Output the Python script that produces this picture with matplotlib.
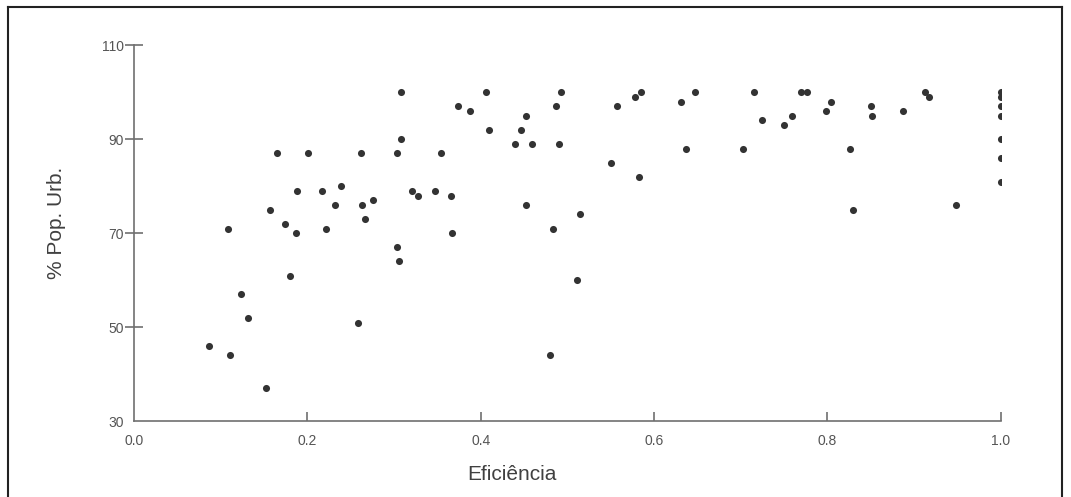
import matplotlib
matplotlib.use("Agg")
import matplotlib.pyplot as plt
from matplotlib.lines import Line2D

plt.rcParams['font.family'] = ['Liberation Sans', 'DejaVu Sans']

eficiencia = [0.087, 0.108, 0.111, 0.124, 0.131, 0.152, 0.157, 0.165, 0.174, 0.180,
              0.187, 0.188, 0.201, 0.217, 0.222, 0.232, 0.239, 0.258, 0.262, 0.263,
              0.267, 0.276, 0.304, 0.303, 0.306, 0.308, 0.308, 0.321, 0.328, 0.347,
              0.354, 0.366, 0.367, 0.374, 0.388, 0.406, 0.410, 0.440, 0.446, 0.452,
              0.452, 0.459, 0.480, 0.483, 0.487, 0.490, 0.493, 0.511, 0.515, 0.550,
              0.557, 0.578, 0.583, 0.585, 0.631, 0.637, 0.647, 0.703, 0.715, 0.725,
              0.750, 0.759, 0.770, 0.777, 0.798, 0.804, 0.826, 0.830, 0.850, 0.852,
              0.887, 0.913, 0.917, 0.948, 1.0, 1.0, 1.0, 1.0, 1.0, 1.0, 1.0]
pop_urb = [46, 71, 44, 57, 52, 37, 75, 87, 72, 61,
           70, 79, 87, 79, 71, 76, 80, 51, 87, 76,
           73, 77, 87, 67, 64, 90, 100, 79, 78, 79,
           87, 78, 70, 97, 96, 100, 92, 89, 92, 95,
           76, 89, 44, 71, 97, 89, 100, 60, 74, 85,
           97, 99, 82, 100, 98, 88, 100, 88, 100, 94,
           93, 95, 100, 100, 96, 98, 88, 75, 97, 95,
           96, 100, 99, 76, 100, 99, 97, 95, 90, 86, 81]

x_ticks = [0.0, 0.2, 0.4, 0.6, 0.8, 1.0]
y_ticks = [30, 50, 70, 90, 110]

W, H = 1071, 497
fig = plt.figure(figsize=(W / 100, H / 100), dpi=100)
left, right, top, bottom = 134, 1000.7, 45.3, 421.3
ax = fig.add_axes([left / W, 1 - bottom / H, (right - left) / W, (bottom - top) / H])

ax.scatter(eficiencia, pop_urb, marker='o', s=26, color='#333333', linewidths=0, zorder=3)

ax.set_xlim(0, 1)
ax.set_ylim(30, 110)
ax.set_xticks(x_ticks)
ax.set_xticklabels([f"{v:.1f}" for v in x_ticks])
ax.set_yticks(y_ticks)
ax.set_yticklabels([str(v) for v in y_ticks])

axis_col = '#707070'
for s in ['top', 'right']:
    ax.spines[s].set_visible(False)
for s in ['left', 'bottom']:
    ax.spines[s].set_color(axis_col)
    ax.spines[s].set_linewidth(1.2)

ax.tick_params(axis='x', direction='in', length=6.5, width=1.2, color=axis_col,
               labelsize=10, labelcolor='#555555', pad=9)
ax.tick_params(axis='y', direction='inout', length=13, width=1.2, color=axis_col,
               labelsize=10, labelcolor='#555555', pad=1)
ax.yaxis.get_major_ticks()[0].tick1line.set_visible(False)
ax.xaxis.get_major_ticks()[0].tick1line.set_visible(False)

fig.text(57 / W, 1 - 223 / H, '% Pop. Urb.', rotation=90, ha='center', va='center',
         fontsize=15, color='#404040')
fig.text(512 / W, 1 - 474 / H, 'Eficiência', ha='center', va='center',
         fontsize=15, color='#404040')

# outer frame (left, top, right)
lw = 1.5
fig.add_artist(Line2D([8 / W, 8 / W], [0, 1 - 7 / H], color='#222222', lw=lw,
                      transform=fig.transFigure))
fig.add_artist(Line2D([8 / W, 1062 / W], [1 - 7 / H, 1 - 7 / H], color='#222222', lw=lw,
                      transform=fig.transFigure))
fig.add_artist(Line2D([1062 / W, 1062 / W], [0, 1 - 7 / H], color='#222222', lw=lw,
                      transform=fig.transFigure))

fig.savefig('out.png', dpi=100, facecolor='white')
